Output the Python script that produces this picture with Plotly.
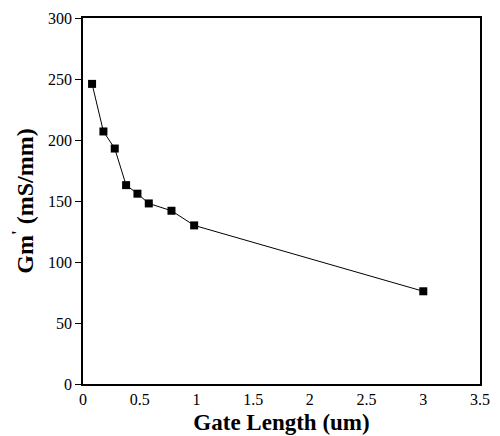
import plotly.graph_objects as go

gate_length = [0.08, 0.18, 0.28, 0.38, 0.48, 0.58, 0.78, 0.98, 3.0]
gm = [246, 207, 193, 163, 156, 148, 142, 130, 76]

x_ticks = [0, 0.5, 1, 1.5, 2, 2.5, 3, 3.5]
x_tick_text = ["0", "0.5", "1", "1.5", "2", "2.5", "3", "3.5"]
y_ticks = [0, 50, 100, 150, 200, 250, 300]

fig = go.Figure()
fig.add_trace(go.Scatter(
    x=gate_length, y=gm, mode="lines+markers",
    line=dict(color="black", width=1),
    marker=dict(symbol="square", size=8, color="black"),
    showlegend=False,
))

font_family = "Liberation Serif"
# page body has an 8px default margin, so the figure is sized to fit the 500x436 window
fig.update_layout(
    width=492, height=428,
    margin=dict(l=75, r=20, t=10, b=52),
    paper_bgcolor="white", plot_bgcolor="white",
    font=dict(family=font_family, color="black", size=16),
    xaxis=dict(
        range=[0, 3.5], tickvals=x_ticks, ticktext=x_tick_text,
        showgrid=False, zeroline=False, automargin=False,
        showline=True, linecolor="black", linewidth=1.5, mirror=True,
        ticks="", tickfont=dict(family=font_family, size=16, color="black"),
        title=dict(text="<b>Gate Length (um)</b>", font=dict(family=font_family, size=23), standoff=7),
    ),
    yaxis=dict(
        range=[0, 300], tickvals=y_ticks,
        showgrid=False, zeroline=False, automargin=False,
        showline=True, linecolor="black", linewidth=1.5, mirror=True,
        ticks="outside", ticklen=6, tickwidth=1, tickcolor="black",
        tickfont=dict(family=font_family, size=16, color="black"),
        title=dict(text="<b>Gm<sup>'</sup> (mS/mm)</b>", font=dict(family=font_family, size=24), standoff=8),
    ),
)

fig.write_html("out.html")
